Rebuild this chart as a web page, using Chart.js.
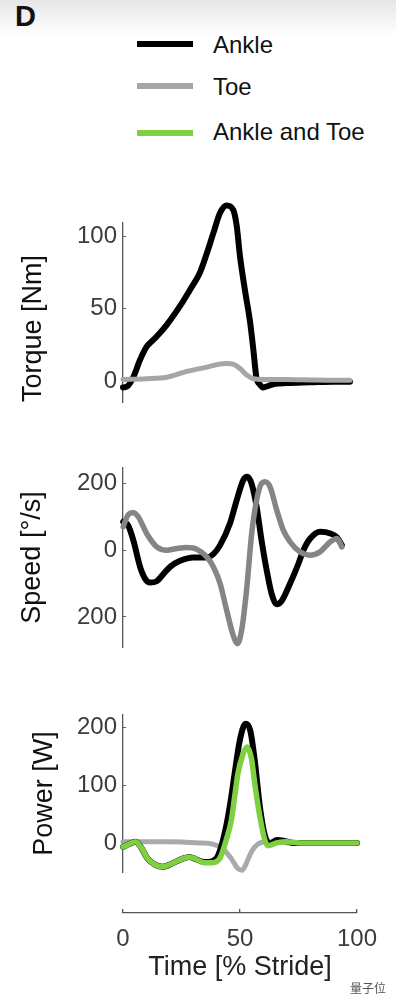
<!DOCTYPE html>
<html>
<head>
<meta charset="utf-8">
<script src="https://cdn.jsdelivr.net/npm/chart.js@4.4.1/dist/chart.umd.min.js"></script>
<style>
  body { margin: 0; width: 396px; height: 1004px; position: relative; overflow: hidden;
         background: linear-gradient(#e6e6e6, #ffffff 36px); font-family: "Liberation Sans", Arial, sans-serif; }
  .abs { position: absolute; }
  .key { position: absolute; left: 137px; width: 56px; height: 6px; }
  .lbl { position: absolute; left: 213px; font-size: 24px; line-height: 24px; color: #111; white-space: nowrap; }
</style>
</head>
<body>
<div class="abs" style="left:15px;top:2px;font-size:29px;line-height:29px;font-weight:bold;color:#111">D</div>

<div class="key" style="top:41px;background:#000"></div>
<div class="lbl" style="top:33px">Ankle</div>
<div class="key" style="top:83px;background:#a6a6a6"></div>
<div class="lbl" style="top:75px">Toe</div>
<div class="key" style="top:130px;background:#7fd040"></div>
<div class="lbl" style="top:120px">Ankle and Toe</div>

<canvas id="torque" class="abs" style="left:0;top:190px" width="396" height="230"></canvas>
<canvas id="speed" class="abs" style="left:0;top:450px" width="396" height="220"></canvas>
<canvas id="power" class="abs" style="left:0;top:700px" width="396" height="190"></canvas>
<canvas id="time" class="abs" style="left:0;top:890px" width="396" height="114"></canvas>

<div class="abs" style="left:350px;top:979px;font-size:12px;color:#555;font-family:'Noto Sans CJK SC',sans-serif">量子位</div>

<script>
var FONT = '"Liberation Sans", Arial, sans-serif';
var BLACK = '#000000';
var GREEN = '#7fd040';

// x ticks (% stride)
var timeTicks = [0, 50, 100];

// Torque [Nm]
var torqueTicks = [0, 50, 100];
var torqueAnkleT = [0, 2, 4.4, 7.3, 10.1, 12.5, 14.4, 18.7, 24.4, 28.6, 32.9, 35.8, 38.6, 41.5, 44.3, 47.1, 48.6, 50, 52.1, 54.3, 55.7, 57, 58.5, 60, 62, 65, 70, 80, 90, 97];
var torqueAnkle = [-4, -3, 3, 15, 24, 28, 31, 39, 52, 63, 75, 88, 102, 116, 121, 118, 107, 86, 63, 41, 22, 3, -2, -4, -3, -1.5, -1, -0.5, 0, 0];
var torqueToeT = [0, 10, 18.7, 27.3, 35.9, 41, 44.3, 47.1, 50, 52.9, 55.7, 60, 70, 80, 90, 97];
var torqueToe = [1.5, 2, 3, 7, 10, 12, 12.5, 12, 9, 4.5, 2, 1.5, 1.5, 1.2, 1, 1];

// Speed [deg/s]
var speedTicks = [-200, 0, 200];
var speedAnkleT = [0.1, 2.1, 4.4, 7.3, 9.4, 11.5, 14.4, 17.2, 20.1, 24.4, 30.1, 35.8, 38.6, 41.5, 45.7, 48.6, 51.4, 53.1, 54.9, 57.1, 59.2, 61.4, 63.5, 65.7, 67.8, 71.4, 75, 77.1, 80, 84.3, 88.6, 91.5, 93.5];
var speedAnkle = [85, 75, 30, -50, -85, -97, -93, -72, -50, -32, -22, -22, -12, 15, 80, 150, 210, 220, 200, 130, 30, -60, -130, -162, -152, -100, -40, 0, 35, 55, 50, 38, 15];
var speedToeT = [0.1, 2.1, 4.4, 6.5, 10.1, 14.4, 18.7, 23, 27.2, 31.5, 35.8, 38.6, 41.5, 44.3, 47.1, 48.9, 50.7, 52.8, 55, 57.1, 59.2, 60.7, 62.8, 65.7, 68.5, 71.4, 75.6, 79.9, 84.2, 88.6, 91.5, 93.5];
var speedToe = [70, 105, 112, 100, 50, 10, 0, 5, 8, 3, -20, -50, -100, -180, -255, -280, -240, -120, 50, 150, 200, 205, 190, 120, 60, 25, -5, -15, -5, 25, 35, 10];

// Power [W]
var powerTicks = [0, 100, 200];
var powerToeT = [0, 10, 20, 32.7, 38.4, 42.7, 46.3, 49.1, 50.9, 52.7, 54.9, 57.7, 61.3, 65.6, 71.3, 80, 90, 100];
var powerToe = [3, 3, 3, 1, -1, -9, -26, -43, -46, -34, -14, -1, 3, 3, 1, 1, 1, 1];
var powerAnkleT = [0, 2.6, 5.4, 7.6, 10.5, 14, 16.9, 21.2, 25.5, 28.4, 31.2, 34.8, 38.4, 40.5, 43.4, 45.6, 47.7, 49.9, 52.4, 54.4, 56.3, 58.5, 60.6, 62.8, 65.6, 68.5, 72.8, 80, 90, 100];
var powerAnkle = [-6, -1, 3, -6, -26, -37, -40, -34, -26, -23, -27, -32, -30, -22, 17, 63, 120, 177, 206, 194, 143, 63, 14, -1, 6, 5, 1, 1, 1, 1];
var powerBothT = [0, 2.6, 5.4, 7.6, 10.5, 14, 16.9, 21.2, 25.5, 28.4, 31.2, 34.8, 38.4, 41.3, 44.1, 46.3, 47.7, 49.1, 51.3, 53, 54.9, 56.3, 58.5, 60.6, 62, 65.6, 69.9, 75.6, 85, 100];
var powerBoth = [-6, -1, 3, -6, -26, -37, -40, -34, -26, -23, -27, -33, -33, -26, 6, 40, 80, 120, 154, 166, 146, 103, 46, 6, -4, 1, 3, 1, 1, 1];

function pts(t, v) {
    return t.map(function (x, i) { return {x: x, y: v[i]}; });
}

function line(t, v, color, width, order) {
    return {
        data: pts(t, v),
        borderColor: color,
        borderWidth: width,
        pointRadius: 0,
        cubicInterpolationMode: 'monotone',
        borderCapStyle: 'round',
        borderJoinStyle: 'round',
        clip: false,
        order: order
    };
}

function yAxis(min, max, ticks, title, titlePad, align, fmt) {
    return {
        type: 'linear', min: min, max: max,
        afterFit: function (s) {
            s.width = 123;
            // plot box is fixed by the layout padding, not by label overhang
            s.paddingTop = 0;
            s.paddingBottom = 0;
        },
        afterBuildTicks: function (s) { s.ticks = ticks.map(function (v) { return {value: v}; }); },
        // short inward tick marks, like the original axes
        grid: {display: true, drawOnChartArea: false, drawTicks: true, tickLength: -3, color: '#666', lineWidth: 1},
        border: {display: true, color: '#555', width: 1.3},
        ticks: {color: '#3c3c3c', font: {size: 24, family: FONT}, padding: 9,
                callback: fmt || function (v) { return v; }},
        title: {display: true, text: title, color: '#111', font: {size: 27, family: FONT},
                padding: {top: titlePad, bottom: 0}, align: align}
    };
}

function panel(id, datasets, y, padTop, padBottom) {
    return new Chart(document.getElementById(id), {
        type: 'line',
        data: {datasets: datasets},
        options: {
            responsive: false,
            animation: false,
            layout: {padding: {top: padTop, bottom: padBottom, left: 0, right: 39}},
            plugins: {legend: {display: false}, tooltip: {enabled: false}},
            scales: {
                x: {type: 'linear', min: 0, max: 100, display: false},
                y: y
            }
        }
    });
}

panel('torque', [
    line(torqueAnkleT, torqueAnkle, BLACK, 6, 1),
    line(torqueToeT, torqueToe, '#a6a6a6', 5, 0)
], yAxis(-14, 109, torqueTicks, 'Torque [Nm]', 17, 'start'), 33, 18);

panel('speed', [
    line(speedAnkleT, speedAnkle, BLACK, 6, 1),
    line(speedToeT, speedToe, '#858585', 5.5, 0)
], yAxis(-290, 246, speedTicks, 'Speed [°/s]', 16, 'center', function (v) { return Math.abs(v); }), 18, 23);

panel('power', [
    line(powerToeT, powerToe, '#aaaaaa', 5, 2),
    line(powerAnkleT, powerAnkle, BLACK, 6, 1),
    line(powerBothT, powerBoth, GREEN, 5.5, 0)
], yAxis(-49, 221, powerTicks, 'Power [W]', 28, 'center'), 15, 18);

// shared time axis under the panels
new Chart(document.getElementById('time'), {
    type: 'line',
    data: {datasets: []},
    options: {
        responsive: false,
        animation: false,
        layout: {padding: {top: 19, bottom: 0, left: 123, right: 39}},
        plugins: {legend: {display: false}, tooltip: {enabled: false}},
        scales: {
            y: {display: false},
            x: {
                type: 'linear', min: 0, max: 100,
                afterFit: function (s) { s.height = 91; },
                afterBuildTicks: function (s) { s.ticks = timeTicks.map(function (v) { return {value: v}; }); },
                grid: {display: true, drawOnChartArea: true, drawTicks: false, color: '#555', lineWidth: 1.3},
                border: {display: true, color: '#555', width: 1.3},
                ticks: {color: '#3c3c3c', font: {size: 24, family: FONT}, padding: 12, maxRotation: 0},
                title: {display: true, text: 'Time [% Stride]', color: '#222', font: {size: 27, family: FONT},
                        padding: {top: 0, bottom: 20}}
            }
        }
    }
});
</script>
</body>
</html>
